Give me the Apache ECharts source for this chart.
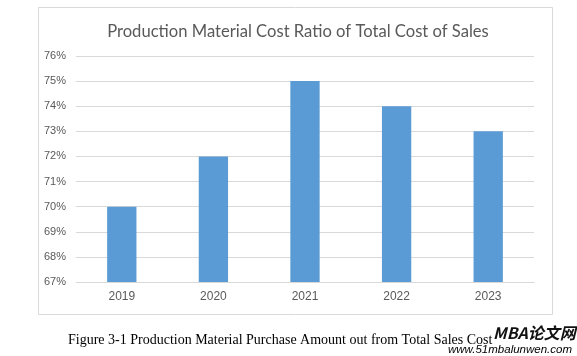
<!DOCTYPE html>
<html>
<head>
<meta charset="utf-8">
<script src="https://cdn.jsdelivr.net/npm/echarts@6/dist/echarts.min.js"></script>
<style>
html,body{margin:0;padding:0;background:#fff;}
#main{width:577px;height:356px;}
</style>
</head>
<body>
<div id="main"></div>
<script>
var categories = ['2019', '2020', '2021', '2022', '2023'];
var ratioValues = [70, 72, 75, 74, 73];
var chartTitle = 'Production Material Cost Ratio of Total Cost of Sales';
var figureCaption = 'Figure 3-1 Production Material Purchase Amount out from Total Sales Cost';

var chart = echarts.init(document.getElementById('main'));
chart.setOption({
  animation: false,
  backgroundColor: '#fff',
  title: {
    text: chartTitle,
    left: 293, top: 18, textAlign: 'center',
    textStyle: { fontFamily: 'Lato', fontSize: 16.6, fontWeight: 'normal', color: '#595959' }
  },
  grid: { left: 76, right: 43, top: 56, bottom: 74 },
  xAxis: {
    type: 'category',
    data: categories,
    axisLine: { lineStyle: { color: '#d9d9d9' } },
    axisTick: { show: false },
    axisLabel: { color: '#595959', fontSize: 12, fontFamily: 'Liberation Sans', margin: 9 }
  },
  yAxis: {
    type: 'value',
    min: 67, max: 76, interval: 1,
    axisLine: { show: false },
    axisTick: { show: false },
    splitLine: { lineStyle: { color: '#d9d9d9' } },
    axisLabel: { formatter: '{value}%', color: '#595959', fontSize: 11, fontFamily: 'Liberation Sans', margin: 10 }
  },
  series: [{
    type: 'bar',
    data: ratioValues,
    barWidth: '32%',
    itemStyle: { color: '#5b9bd5' }
  }],
  graphic: [
    { type: 'rect', left: 36, top: 5, z: -1, silent: true,
      shape: { width: 514, height: 307 },
      style: { fill: 'none', stroke: '#d9d9d9', lineWidth: 1 } },
    { type: 'text', left: 68, top: 333,
      style: { text: figureCaption, font: '14px "Liberation Serif"', fill: '#000' } },
    { type: 'text', left: 493, top: 325, z: 10,
      style: { text: 'MBA论文网', font: 'italic bold 16px "Noto Sans CJK SC"', fill: '#111' } },
    { type: 'text', left: 448, top: 344, z: 10,
      style: { text: 'www.51mbalunwen.com', font: 'italic 11.5px "Liberation Sans"',
        fill: new echarts.graphic.LinearGradient(0, 0, 1, 0, [
          { offset: 0, color: '#e8338c' }, { offset: 0.5, color: '#b45fc0' }, { offset: 1, color: '#2bb8d6' }
        ]) } }
  ]
});
</script>
</body>
</html>
